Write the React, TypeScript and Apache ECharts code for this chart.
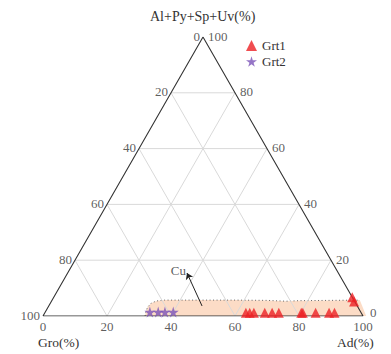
import React, { useEffect, useRef } from "react";
import * as echarts from "echarts";

// tick labels
const TICKS = [0, 20, 40, 60, 80, 100];
const GRID_VALUES = [20, 40, 60, 80];

// Grt1 compositions (Ad %, Al+Py+Sp+Uv %)
const grt1Ad = [62.8, 64.0, 65.3, 68.7, 71.0, 73.1, 80.1, 80.6, 84.6, 88.8, 90.5, 93.3, 94.6];
const grt1Al = [1.2, 1.2, 1.2, 1.2, 1.2, 1.2, 1.2, 1.2, 1.2, 1.2, 1.2, 6.7, 5.2];
// Grt2 compositions
const grt2Ad = [32.7, 35.3, 37.4, 40.0];
const grt2Al = [1.4, 1.4, 1.4, 1.4];

// Cu skarn field envelope (Ad %, Al %)
const fieldAd = [31.9, 31.35, 31.1, 31.5, 32.8, 35.15, 57.15, 67.2, 73.35, 77.25, 87.2, 96.15, 101];
const fieldAl = [0, 1.5, 3.2, 4.6, 5.4, 5.7, 5.7, 5.6, 5.3, 5.5, 5.6, 5.7, 0];

// Cu arrow (tail, head) as (Ad, Al)
const arrowAd = [47.9, 37.3];
const arrowAl = [3.6, 15.4];

const FONT = "Liberation Serif";
const TXT = "#333";

const toXY = (ad: number, al: number) => [ad + al / 2, al];

const STAR =
  "path://M50,0 L61,35 L98,35 L68,57 L79,91 L50,70 L21,91 L32,57 L2,35 L39,35 Z";

export default function App() {
  const ref = useRef<HTMLDivElement>(null);
  useEffect(() => {
    if (!ref.current) return;
    const chart = echarts.init(ref.current, undefined, { renderer: "svg" });

    const lineSeries = (pts: number[][], color: string, width: number, z: number) => ({
      type: "line",
      data: pts,
      symbol: "none",
      silent: true,
      z,
      lineStyle: { color, width },
      animation: false,
    });

    const gridLines: any[] = [];
    GRID_VALUES.forEach((v) => {
      gridLines.push(lineSeries([toXY(0, v), toXY(100 - v, v)], "#d9d9d9", 1, 3));
      gridLines.push(lineSeries([toXY(v, 0), toXY(v, 100 - v)], "#d9d9d9", 1, 3));
      gridLines.push(lineSeries([toXY(100 - v, 0), toXY(0, 100 - v)], "#d9d9d9", 1, 3));
    });

    const edges = lineSeries(
      [toXY(0, 0), toXY(100, 0), toXY(0, 100), toXY(0, 0)],
      "#333",
      1.1,
      4
    );

    const tickSeries = (data: any[], position: string, distance: number, offset: number[]) => ({
      type: "scatter",
      symbolSize: 0,
      silent: true,
      z: 5,
      data,
      label: {
        show: true,
        position,
        distance,
        offset,
        formatter: "{b}",
        color: TXT,
        fontFamily: FONT,
        fontSize: 13,
      },
    });

    const bottomTicks = TICKS.map((t) => ({ name: String(t), value: toXY(t, 0) }));
    const leftTicks = TICKS.map((g) => ({ name: String(g), value: toXY(0, 100 - g) }));
    const rightTicks = TICKS.map((a) => ({
      name: String(a),
      value: toXY(100 - a, a),
      label: a === 0 ? { offset: [2, -4] } : undefined,
    }));

    const fieldPts = fieldAd.map((ad, i) => toXY(ad, fieldAl[i]));

    chart.setOption({
      animation: false,
      textStyle: { fontFamily: FONT, color: TXT },
      grid: { left: 43, top: 37, width: 320, height: 279 },
      xAxis: { type: "value", min: 0, max: 100, show: false },
      yAxis: { type: "value", min: 0, max: 100, show: false },
      legend: {
        left: 241,
        top: 34,
        orient: "vertical",
        itemWidth: 11,
        itemHeight: 11,
        itemGap: 3,
        data: ["Grt1", "Grt2"],
        textStyle: { fontFamily: FONT, fontSize: 13, color: TXT },
      },
      graphic: [
        {
          type: "text",
          left: 150,
          top: 9,
          style: { text: "Al+Py+Sp+Uv(%)", font: `14px "${FONT}"`, fill: TXT },
        },
        {
          type: "text",
          left: 38,
          top: 335,
          style: { text: "Gro(%)", font: `13.5px "${FONT}"`, fill: TXT },
        },
        {
          type: "text",
          left: 337,
          top: 335,
          style: { text: "Ad(%)", font: `13.5px "${FONT}"`, fill: TXT },
        },
      ],
      series: [
        {
          type: "custom",
          silent: true,
          z: 2,
          clip: false,
          data: [[0, 0]],
          renderItem: (_p: any, api: any) => {
            const pts = fieldPts.map((p) => api.coord(p));
            return {
              type: "group",
              children: [
                {
                  type: "polygon",
                  shape: { points: pts },
                  style: { fill: "#fcdcc6" },
                },
                {
                  type: "polyline",
                  shape: { points: pts.slice(0, pts.length - 1) },
                  style: {
                    fill: null,
                    stroke: "#666",
                    lineWidth: 1,
                    lineDash: [1, 2.5],
                  },
                },
              ],
            };
          },
        },
        ...gridLines,
        edges,
        tickSeries(bottomTicks, "bottom", 4, [0, 0]),
        tickSeries(leftTicks, "left", 3, [0, -1]),
        tickSeries(rightTicks, "right", 5, [0, -1]),
        {
          type: "scatter",
          symbolSize: 0,
          silent: true,
          z: 6,
          data: [{ name: "Cu", value: toXY(arrowAd[1], arrowAl[1]) }],
          label: {
            show: true,
            position: "left",
            distance: 1,
            offset: [0, -3],
            formatter: "{b}",
            color: TXT,
            fontFamily: FONT,
            fontSize: 13,
          },
          markLine: {
            silent: true,
            symbol: ["none", "arrow"],
            symbolSize: 6,
            label: { show: false },
            lineStyle: { color: "#222", width: 1, type: "solid" },
            data: [
              [
                { coord: toXY(arrowAd[0], arrowAl[0]) },
                { coord: toXY(arrowAd[1], arrowAl[1]) },
              ],
            ],
          },
        },
        {
          name: "Grt1",
          type: "scatter",
          symbol: "triangle",
          symbolSize: 10,
          z: 8,
          itemStyle: { color: "#ec2124" },
          data: grt1Ad.map((ad, i) => toXY(ad, grt1Al[i])),
        },
        {
          name: "Grt2",
          type: "scatter",
          symbol: STAR,
          symbolSize: 11,
          z: 8,
          itemStyle: { color: "#7b52b8" },
          data: grt2Ad.map((ad, i) => toXY(ad, grt2Al[i])),
        },
      ],
    });
    return () => chart.dispose();
  }, []);
  return (
    <div
      ref={ref}
      style={{ position: "fixed", left: 0, top: 0, width: 391, height: 354, background: "#fff" }}
    />
  );
}
